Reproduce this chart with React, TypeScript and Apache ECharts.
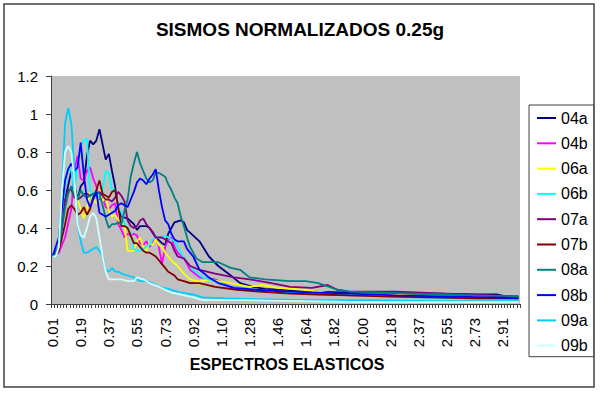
import React, { useEffect, useRef } from "react";
import * as echarts from "echarts";

const titleText = "SISMOS NORMALIZADOS 0.25g";
const xAxisTitle = "ESPECTROS ELASTICOS";
const categoryCount = 150;
const labelEvery = 9;
const tickLabels = ["0.01", "0.19", "0.37", "0.55", "0.73", "0.92", "1.10", "1.28", "1.46", "1.64", "1.82", "2.00", "2.18", "2.37", "2.55", "2.73", "2.91"];

const seriesNames = ["04a", "04b", "06a", "06b", "07a", "07b", "08a", "08b", "09a", "09b"];
const seriesColors = ["#000080", "#FF00FF", "#FFFF00", "#00FFFF", "#800080", "#800000", "#008080", "#0000FF", "#00CCFF", "#CCFFFF"];

const s04a = [[0,0.25],[2,0.3],[4,0.55],[6,0.7],[8,0.55],[9,0.62],[10,0.64],[11,0.78],[12,0.86],[13,0.84],[14,0.86],[15,0.92],[16,0.84],[17,0.76],[18,0.79],[19,0.7],[20,0.62],[21,0.5],[22,0.46],[24,0.45],[26,0.42],[27,0.39],[28,0.41],[30,0.41],[31,0.4],[33,0.35],[35,0.32],[36,0.31],[37,0.37],[39,0.43],[41,0.44],[42,0.43],[43,0.39],[45,0.36],[47,0.33],[50,0.25],[53,0.2],[57,0.15],[60,0.11],[64,0.09],[68,0.08],[72,0.075],[78,0.07],[85,0.065],[95,0.06],[105,0.06],[115,0.055],[125,0.055],[135,0.05],[142,0.05],[145,0.04],[149,0.035]];
const s04b = [[0,0.25],[2,0.27],[4,0.35],[6,0.5],[7,0.7],[8,0.78],[9,0.66],[10,0.65],[11,0.7],[12,0.72],[13,0.66],[14,0.62],[15,0.55],[16,0.56],[17,0.51],[18,0.5],[19,0.52],[20,0.53],[21,0.42],[22,0.39],[23,0.35],[24,0.37],[25,0.36],[26,0.37],[27,0.36],[28,0.32],[29,0.31],[30,0.33],[31,0.3],[32,0.32],[33,0.35],[34,0.3],[35,0.21],[36,0.3],[37,0.34],[38,0.35],[39,0.3],[40,0.27],[42,0.24],[44,0.18],[47,0.14],[52,0.13],[57,0.09],[65,0.075],[75,0.065],[85,0.055],[95,0.045],[110,0.045],[125,0.04],[140,0.04],[149,0.035]];
const s06a = [[0,0.25],[2,0.3],[3,0.45],[4,0.5],[5,0.58],[6,0.6],[7,0.6],[8,0.55],[9,0.5],[10,0.45],[11,0.5],[12,0.59],[13,0.55],[14,0.53],[15,0.6],[16,0.54],[17,0.57],[18,0.49],[19,0.46],[20,0.47],[21,0.44],[22,0.43],[23,0.42],[24,0.28],[25,0.28],[26,0.28],[27,0.33],[28,0.35],[29,0.3],[30,0.28],[31,0.32],[32,0.31],[33,0.34],[34,0.31],[35,0.3],[36,0.27],[37,0.25],[38,0.23],[40,0.2],[42,0.16],[44,0.13],[46,0.12],[48,0.12],[50,0.13],[53,0.12],[57,0.11],[63,0.09],[67,0.1],[72,0.085],[80,0.075],[90,0.055],[100,0.05],[115,0.045],[130,0.04],[149,0.03]];
const s06b = [[0,0.25],[2,0.3],[3,0.45],[4,0.62],[5,0.72],[6,0.7],[7,0.6],[8,0.72],[9,0.83],[10,0.86],[11,0.87],[12,0.6],[13,0.55],[14,0.58],[15,0.56],[16,0.6],[17,0.7],[18,0.69],[19,0.6],[20,0.6],[21,0.5],[22,0.49],[23,0.42],[24,0.4],[25,0.37],[26,0.29],[27,0.28],[28,0.28],[29,0.29],[30,0.3],[31,0.31],[32,0.34],[33,0.35],[35,0.35],[36,0.36],[37,0.35],[38,0.34],[39,0.33],[41,0.27],[43,0.22],[45,0.18],[48,0.14],[52,0.12],[57,0.09],[65,0.075],[75,0.06],[85,0.05],[100,0.045],[115,0.035],[130,0.03],[149,0.025]];
const s07a = [[0,0.25],[2,0.3],[3,0.4],[4,0.55],[5,0.6],[6,0.6],[7,0.56],[8,0.55],[9,0.56],[10,0.58],[11,0.58],[12,0.57],[13,0.58],[14,0.58],[15,0.59],[16,0.57],[17,0.55],[18,0.55],[19,0.54],[20,0.56],[21,0.59],[22,0.57],[23,0.54],[24,0.44],[25,0.41],[26,0.4],[27,0.41],[28,0.44],[29,0.45],[30,0.42],[31,0.4],[32,0.38],[33,0.35],[34,0.35],[35,0.35],[36,0.34],[37,0.33],[38,0.32],[39,0.28],[40,0.25],[42,0.24],[44,0.2],[47,0.18],[52,0.16],[58,0.14],[63,0.13],[70,0.11],[76,0.09],[83,0.085],[88,0.1],[91,0.075],[95,0.065],[105,0.065],[110,0.065],[118,0.06],[125,0.055],[133,0.05],[140,0.045],[149,0.04]];
const s07b = [[0,0.25],[2,0.28],[3,0.35],[4,0.42],[5,0.5],[6,0.52],[7,0.5],[8,0.47],[9,0.48],[10,0.51],[11,0.47],[12,0.5],[13,0.56],[14,0.6],[15,0.65],[16,0.58],[17,0.57],[18,0.56],[19,0.59],[20,0.6],[21,0.51],[22,0.41],[23,0.41],[24,0.4],[25,0.36],[26,0.32],[27,0.32],[28,0.3],[29,0.28],[30,0.27],[31,0.27],[32,0.26],[33,0.25],[34,0.23],[35,0.21],[36,0.19],[37,0.17],[39,0.15],[40,0.13],[42,0.12],[44,0.11],[47,0.11],[52,0.09],[59,0.075],[66,0.065],[76,0.055],[85,0.05],[95,0.045],[105,0.04],[120,0.035],[135,0.03],[149,0.03]];
const s08a = [[0,0.25],[2,0.3],[3,0.4],[4,0.5],[5,0.58],[6,0.62],[7,0.56],[8,0.55],[9,0.6],[10,0.57],[11,0.56],[12,0.57],[13,0.58],[14,0.59],[15,0.58],[16,0.52],[17,0.45],[18,0.4],[19,0.42],[20,0.42],[21,0.43],[22,0.42],[23,0.49],[24,0.55],[25,0.67],[26,0.74],[27,0.8],[28,0.74],[29,0.7],[30,0.66],[31,0.64],[32,0.65],[33,0.69],[34,0.69],[35,0.68],[36,0.67],[37,0.63],[38,0.6],[39,0.56],[40,0.53],[41,0.46],[42,0.41],[43,0.35],[44,0.3],[46,0.24],[48,0.22],[51,0.22],[53,0.22],[57,0.19],[60,0.18],[63,0.14],[68,0.13],[76,0.12],[81,0.12],[85,0.11],[91,0.075],[95,0.065],[105,0.06],[115,0.055],[125,0.05],[135,0.045],[149,0.04]];
const s08b = [[0,0.25],[2,0.35],[3,0.5],[4,0.65],[5,0.71],[6,0.74],[7,0.7],[8,0.72],[9,0.85],[10,0.68],[11,0.55],[12,0.51],[13,0.55],[14,0.59],[15,0.48],[16,0.47],[17,0.46],[18,0.47],[19,0.48],[20,0.49],[21,0.52],[22,0.53],[23,0.52],[24,0.51],[25,0.55],[26,0.59],[27,0.64],[28,0.66],[29,0.65],[30,0.63],[31,0.66],[32,0.68],[33,0.71],[34,0.6],[35,0.51],[36,0.44],[37,0.42],[38,0.37],[39,0.34],[40,0.33],[42,0.33],[43,0.29],[45,0.25],[47,0.18],[50,0.14],[53,0.11],[58,0.085],[65,0.075],[75,0.065],[85,0.06],[95,0.055],[110,0.045],[125,0.04],[140,0.035],[149,0.03]];
const s09a = [[0,0.25],[1,0.25],[2,0.3],[3,0.6],[4,0.95],[5,1.03],[6,0.95],[7,0.7],[8,0.42],[9,0.33],[10,0.27],[11,0.27],[12,0.28],[13,0.29],[14,0.3],[15,0.28],[16,0.25],[17,0.18],[18,0.17],[19,0.19],[20,0.17],[21,0.17],[22,0.16],[24,0.15],[26,0.14],[28,0.12],[30,0.12],[32,0.11],[34,0.09],[37,0.08],[41,0.06],[45,0.05],[48,0.035],[55,0.03],[65,0.025],[80,0.02],[100,0.02],[120,0.015],[149,0.015]];
const s09b = [[0,0.25],[1,0.25],[2,0.3],[3,0.6],[4,0.8],[5,0.83],[6,0.8],[7,0.65],[8,0.42],[9,0.36],[10,0.35],[11,0.4],[12,0.46],[13,0.48],[14,0.45],[15,0.35],[16,0.25],[17,0.17],[18,0.13],[20,0.13],[22,0.13],[24,0.12],[26,0.12],[27,0.14],[29,0.13],[31,0.11],[34,0.09],[38,0.06],[41,0.05],[45,0.035],[48,0.02],[60,0.02],[80,0.015],[100,0.01],[149,0.01]];

const seriesData = [s04a, s04b, s06a, s06b, s07a, s07b, s08a, s08b, s09a, s09b];

const FONT = '"Liberation Sans", Arial, sans-serif';

export default function App() {
  const ref = useRef<HTMLDivElement>(null);
  useEffect(() => {
    if (!ref.current) return;
    const chart = echarts.init(ref.current, null, { renderer: "svg" });
    const categories = Array.from({ length: categoryCount }, (_, i) =>
      i % labelEvery === 0 && tickLabels[i / labelEvery] ? tickLabels[i / labelEvery] : ""
    );
    chart.setOption({
      animation: false,
      backgroundColor: "#ffffff",
      textStyle: { fontFamily: FONT },
      title: {
        text: titleText,
        left: "center",
        top: 20,
        padding: 0,
        textStyle: { fontFamily: FONT, fontSize: 19, fontWeight: "bold", color: "#000" },
      },
      legend: {
        orient: "vertical",
        left: 529,
        top: 105,
        padding: [5, 6, 3, 7],
        itemGap: 9.3,
        itemWidth: 19,
        itemHeight: 14,
        borderColor: "#404040",
        borderWidth: 1,
        backgroundColor: "#ffffff",
        data: seriesNames,
        itemStyle: { opacity: 0 },
        lineStyle: { width: 2 },
        textStyle: { fontFamily: FONT, fontSize: 16, color: "#000" },
      },
      grid: {
        left: 51,
        right: 80,
        top: 76,
        bottom: 89,
        show: true,
        backgroundColor: "#C0C0C0",
        borderWidth: 0,
      },
      xAxis: {
        type: "category",
        data: categories,
        boundaryGap: true,
        axisLine: { show: true, lineStyle: { color: "#404040", width: 1 } },
        axisTick: { show: true, interval: 0, length: 4, lineStyle: { color: "#404040" } },
        axisLabel: {
          interval: (i: number) => i % labelEvery === 0,
          rotate: 90,
          margin: 14,
          fontSize: 15,
          fontFamily: FONT,
          color: "#000",
        },
        splitLine: { show: false },
      },
      yAxis: {
        type: "value",
        min: 0,
        max: 1.2,
        interval: 0.2,
        axisLine: { show: true, lineStyle: { color: "#404040", width: 1 } },
        axisTick: { show: true, length: 5, lineStyle: { color: "#404040" } },
        axisLabel: { fontSize: 15, fontFamily: FONT, color: "#000", margin: 13 },
        splitLine: { show: false },
      },
      graphic: [
        {
          type: "rect",
          shape: { x: 4, y: 4, width: 590, height: 383 },
          style: { fill: "none", stroke: "#404040", lineWidth: 1.5 },
          silent: true,
        },
        {
          type: "text",
          x: 287,
          y: 364,
          style: {
            text: xAxisTitle,
            fontFamily: FONT,
            fontSize: 16,
            fontWeight: "bold",
            fill: "#000",
            textAlign: "center",
            textVerticalAlign: "middle",
          },
        },
      ],
      series: seriesNames.map((name, k) => ({
        name,
        type: "line",
        data: seriesData[k],
        symbol: "none",
        showSymbol: false,
        lineStyle: { color: seriesColors[k], width: 1.8 },
        itemStyle: { color: seriesColors[k] },
      })),
    });
    return () => chart.dispose();
  }, []);
  return (
    <div
      ref={ref}
      style={{ position: "fixed", left: 0, top: 0, width: 600, height: 393 }}
    />
  );
}
